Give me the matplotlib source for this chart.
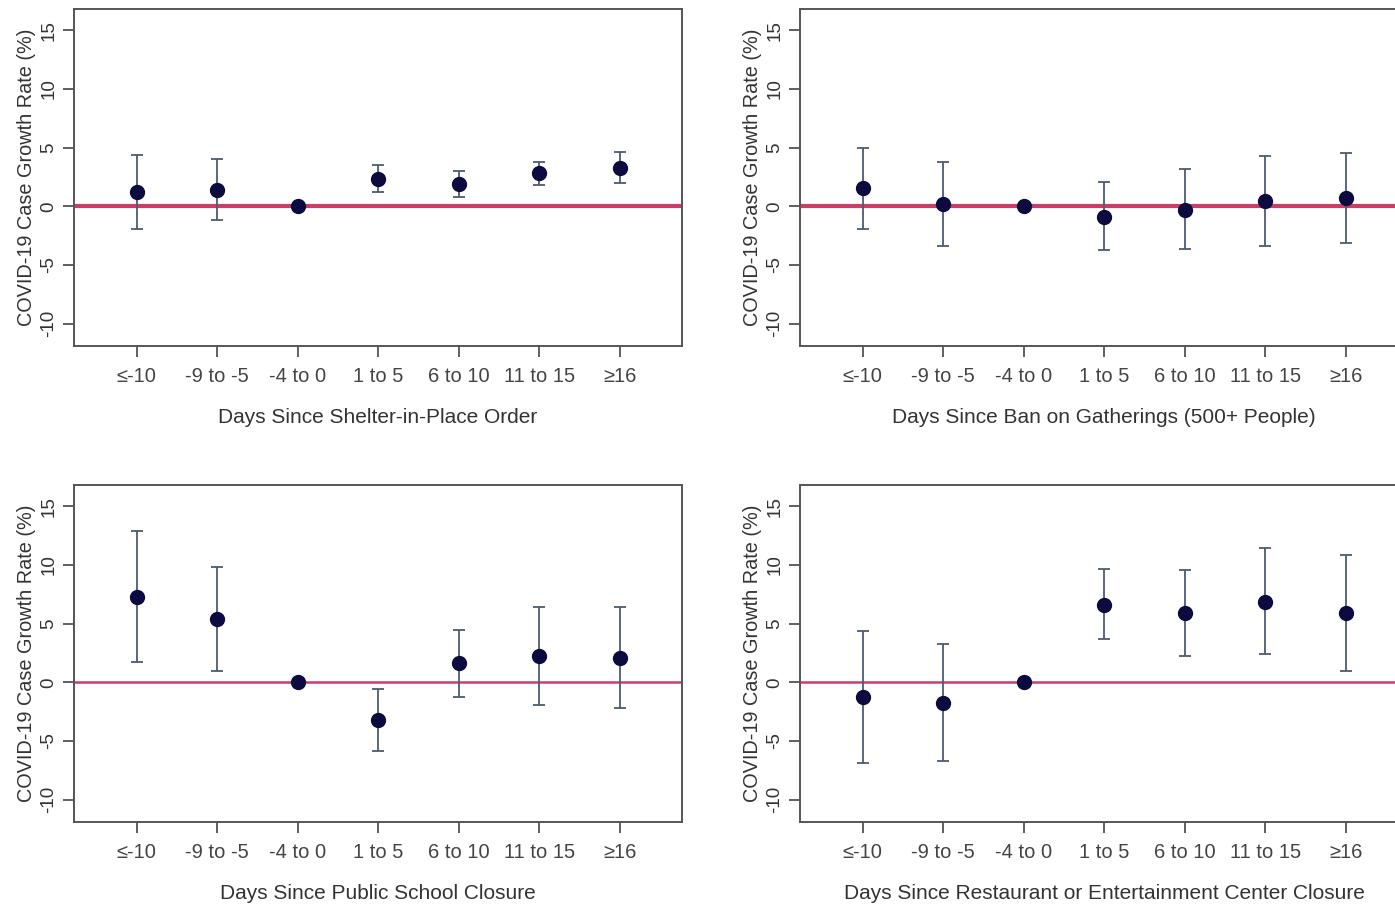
import numpy as np
import matplotlib
matplotlib.use("Agg")
import matplotlib.pyplot as plt

plt.rcParams['font.family'] = ['Liberation Sans', 'DejaVu Sans']

# categorias del eje x
cats = ["\u2264-10", "-9 to -5", "-4 to 0", "1 to 5", "6 to 10", "11 to 15", "\u226516"]

# Shelter-in-place
shelter_est = [1.2, 1.4, 0.0, 2.3, 1.9, 2.8, 3.3]
shelter_lo = [-1.9, -1.2, 0.0, 1.25, 0.75, 1.8, 2.0]
shelter_hi = [4.35, 4.0, 0.0, 3.5, 3.0, 3.8, 4.65]

# Ban on gatherings
gather_est = [1.55, 0.2, 0.0, -0.9, -0.28, 0.43, 0.68]
gather_lo = [-1.95, -3.4, 0.0, -3.7, -3.6, -3.4, -3.1]
gather_hi = [4.95, 3.8, 0.0, 2.05, 3.2, 4.25, 4.55]

# Public school closure
school_est = [7.25, 5.35, 0.0, -3.2, 1.6, 2.2, 2.05]
school_lo = [1.72, 0.95, 0.0, -5.85, -1.25, -1.9, -2.2]
school_hi = [12.85, 9.85, 0.0, -0.55, 4.47, 6.38, 6.38]

# Restaurant / entertainment closure
rest_est = [-1.25, -1.8, 0.0, 6.6, 5.9, 6.85, 5.9]
rest_lo = [-6.85, -6.7, 0.0, 3.65, 2.22, 2.42, 1.0]
rest_hi = [4.36, 3.22, 0.0, 9.64, 9.58, 11.43, 10.81]

xlabels = ["Days Since Shelter-in-Place Order",
           "Days Since Ban on Gatherings (500+ People)",
           "Days Since Public School Closure",
           "Days Since Restaurant or Entertainment Center Closure"]

W, H = 1395, 905
fig = plt.figure(figsize=(W / 100, H / 100), dpi=100)

# posiciones en pixeles: (izquierda, arriba)
boxes = [(74, 9), (800, 9), (74, 485), (800, 485)]
panels = [(shelter_est, shelter_lo, shelter_hi, 3.0),
          (gather_est, gather_lo, gather_hi, 3.0),
          (school_est, school_lo, school_hi, 1.8),
          (rest_est, rest_lo, rest_hi, 1.8)]

x = np.arange(1, len(cats) + 1)
for (px, py), (est, lo, hi, lw0), xl in zip(boxes, panels, xlabels):
    ax = fig.add_axes([px / W, 1 - (py + 337) / H, 608 / W, 337 / H])
    est = np.array(est)
    yerr = np.vstack([est - np.array(lo), np.array(hi) - est])
    ax.axhline(0, color='#cc3d68', lw=lw0, zorder=1)
    ax.errorbar(x, est, yerr=yerr, fmt='none', ecolor='#4d5b70', elinewidth=1.3,
                capsize=4.5, capthick=1.3, zorder=2)
    ax.plot(x, est, 'o', color='#0b0b40', ms=10, zorder=3)
    ax.set_xlim(0.22, 7.77)
    ax.set_ylim(-11.9, 16.8)
    ax.set_xticks(x)
    ax.set_xticklabels(cats, color='#444444', fontsize=14.5)
    ax.set_yticks([-10, -5, 0, 5, 10, 15])
    ax.set_yticklabels(['-10', '-5', '0', '5', '10', '15'], rotation=90,
                       va='center', color='#333333', fontsize=13.5)
    ax.tick_params(axis='both', direction='out', length=8, width=1.2, color='#444444')
    ax.tick_params(axis='x', pad=7)
    ax.tick_params(axis='y', pad=4)
    for sp in ax.spines.values():
        sp.set_color('#555555')
        sp.set_linewidth(1.4)
    ax.set_xlabel(xl, fontsize=15, color='#333333', labelpad=16)
    ax.set_ylabel("COVID-19 Case Growth Rate (%)", fontsize=14.3, color='#333333', labelpad=3)

fig.savefig("out.png", dpi=100)
